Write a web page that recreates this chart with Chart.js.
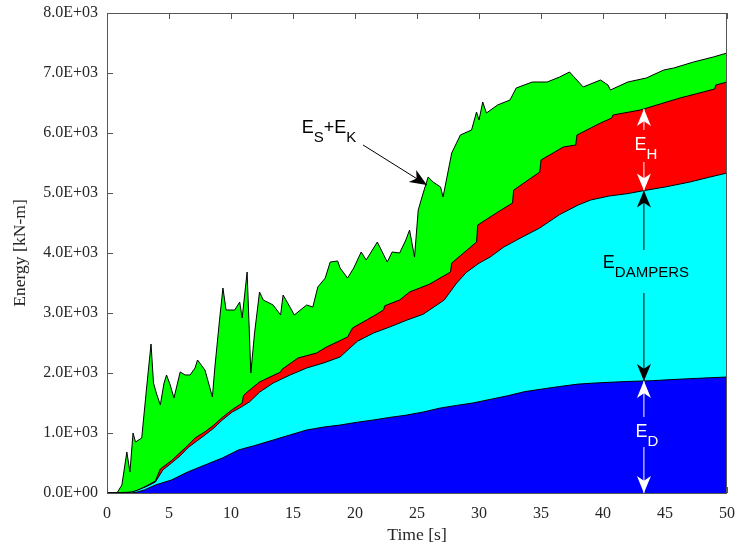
<!DOCTYPE html>
<html>
<head>
<meta charset="utf-8">
<script src="https://cdn.jsdelivr.net/npm/chart.js@4.4.0/dist/chart.umd.min.js"></script>
<style>
  html, body { margin: 0; padding: 0; background: #fff; }
  #wrap { width: 738px; height: 545px; }
</style>
</head>
<body>
<div id="wrap"><canvas id="energyChart" width="738" height="545"></canvas></div>
<script>
// tick labels
const xTickLabels = ['0', '5', '10', '15', '20', '25', '30', '35', '40', '45', '50'];
const yTickLabels = ['0.0E+00', '1.0E+03', '2.0E+03', '3.0E+03', '4.0E+03', '5.0E+03', '6.0E+03', '7.0E+03', '8.0E+03'];

// E_D (damping energy), top of blue band
const edTime = [0, 2, 2.5, 3, 3.9, 5.2, 6.5, 7.9, 9.3, 10.6, 11.9, 13.4, 14.8, 16.1, 17.5, 18.8, 20.2, 21.5, 22.8, 24.2,
  25.5, 26.9, 28.2, 29.5, 30.9, 32.3, 33.7, 35, 36.5, 38, 39.5, 41, 42.5, 44, 45.5, 47, 48.5, 50];
const edTop = [0, 0, 20, 50, 133, 217, 350, 467, 583, 717, 790, 883, 970, 1050, 1100, 1133, 1180, 1217, 1260, 1300,
  1350, 1417, 1460, 1500, 1560, 1620, 1690, 1730, 1775, 1815, 1835, 1850, 1862, 1872, 1890, 1905, 1920, 1933];

// E_D + E_DAMPERS, top of cyan band
const dampersTime = [0, 1.5, 2, 2.5, 3.2, 3.9, 4.5, 5.2, 5.9, 6.5, 7.2, 7.9, 8.6, 9.3, 10.1, 10.7, 11.5, 12.3, 13.4, 14.8,
  16.1, 17.5, 18.8, 19.5, 20.2, 21.5, 22.8, 24.2, 25.5, 26, 27.2, 28.2, 29, 30, 30.9, 32, 33.5, 34.9, 36.5, 38,
  39, 40.5, 42, 43.3, 45, 47, 48.5, 50];
const dampersTop = [0, 5, 15, 50, 110, 183, 383, 500, 620, 750, 860, 967, 1080, 1217, 1350, 1417, 1520, 1680, 1833, 1970,
  2083, 2170, 2267, 2400, 2530, 2667, 2767, 2883, 2980, 3050, 3217, 3500, 3680, 3830, 3933, 4100, 4267, 4417, 4640, 4800,
  4883, 4950, 4990, 5040, 5100, 5183, 5260, 5333];

// + E_H, top of red band
const hystTime = [0, 2, 2.5, 3.2, 3.9, 4.3, 5.2, 6.5, 7.1, 7.9, 8.6, 9.3, 10.1, 10.9, 11.0, 11.3, 12.3, 14.0, 14.1, 15.4,
  16.9, 17.7, 19.4, 19.8, 21.5, 22.3, 22.4, 23.6, 24.4, 26, 27.7, 27.8, 29.8, 29.9, 31.5, 32.7, 32.8, 34.9, 35, 36.8,
  37.8, 37.9, 39.8, 40.7, 40.8, 43, 46.2, 49, 49.1, 50];
const hystTop = [0, 15, 50, 120, 200, 400, 540, 790, 917, 1020, 1130, 1260, 1390, 1500, 1620, 1683, 1850, 2017, 2060, 2250,
  2333, 2433, 2600, 2750, 2950, 3050, 3120, 3217, 3350, 3480, 3683, 3833, 4183, 4467, 4680, 4833, 5050, 5350, 5550, 5767,
  5800, 5967, 6167, 6250, 6300, 6383, 6583, 6733, 6800, 6850];

// + E_S + E_K, top of green band (total input energy)
const totalTime = [0, 0.8, 1.2, 1.6, 1.85, 2.1, 2.3, 2.8, 3.2, 3.55, 3.75, 4.0, 4.3, 4.6, 4.8, 5.1, 5.4, 5.9, 6.3, 6.7,
  7.1, 7.3, 7.9, 8.5, 8.7, 9.1, 9.35, 9.6, 10.3, 10.7, 10.9, 11.3, 11.6, 11.9, 12.3, 12.6, 13.4, 14.0, 14.2, 14.8,
  15.1, 16.1, 16.6, 17.0, 17.6, 18.0, 18.6, 18.8, 19.4, 19.9, 20.5, 20.9, 21.8, 22.6, 23.0, 23.6, 24.1, 24.4, 24.8, 25.1,
  25.5, 25.9, 26.3, 26.9, 27.1, 27.8, 28.5, 29.4, 29.8, 30.0, 30.3, 30.6, 31.5, 32.5, 33.0, 34.3, 35.5, 36.5, 37.3, 38.4,
  39.8, 40.4, 40.6, 42.0, 43.5, 44.9, 45.7, 47.3, 48.9, 50];
const totalTop = [0, 0, 133, 683, 350, 1000, 850, 917, 1767, 2483, 1833, 1650, 1467, 1833, 1967, 1800, 1583, 2017, 1967, 1967,
  2083, 2217, 2050, 1600, 2100, 2933, 3417, 3050, 3050, 3183, 2917, 3683, 2000, 2667, 3350, 3217, 3133, 2967, 3300, 3083,
  2967, 3133, 3100, 3433, 3583, 3850, 3867, 3750, 3583, 3750, 4017, 3883, 4183, 3850, 4017, 4000, 4217, 4383, 3933, 4717,
  5000, 5267, 5183, 5100, 4933, 5667, 5967, 6050, 6350, 6217, 6517, 6333, 6467, 6550, 6750, 6850, 6850, 6933, 7017, 6767,
  6883, 6800, 6717, 6850, 6917, 7050, 7083, 7183, 7267, 7333];

const toPoints = (ts, es) => ts.map((t, i) => ({ x: t, y: es[i] }));

const valueAt = (ts, es, t) => {
  for (let i = 1; i < ts.length; i++) {
    if (t <= ts[i]) {
      const f = (t - ts[i - 1]) / (ts[i] - ts[i - 1]);
      return es[i - 1] + f * (es[i] - es[i - 1]);
    }
  }
  return es[es.length - 1];
};

const serif = '"Liberation Serif", "Times New Roman", serif';
const sans = '"Liberation Sans", Arial, sans-serif';
const axisColor = '#262626';
const frameColor = '#555555';

const drawLabel = (ctx, parts, x, y, color, align) => {
  // parts: [text, isSubscript]
  const widths = parts.map(([txt, sub]) => {
    ctx.font = sub ? `15px ${sans}` : `18px ${sans}`;
    return ctx.measureText(txt).width;
  });
  const total = widths.reduce((a, b) => a + b, 0);
  let cx = align === 'center' ? x - total / 2 : x;
  ctx.fillStyle = color;
  ctx.textBaseline = 'alphabetic';
  ctx.textAlign = 'left';
  parts.forEach(([txt, sub], i) => {
    ctx.font = sub ? `15px ${sans}` : `18px ${sans}`;
    ctx.fillText(txt, cx, sub ? y + 9 : y);
    cx += widths[i];
  });
};

const arrowHead = (ctx, tipX, tipY, fromX, fromY, len, half) => {
  const ang = Math.atan2(tipY - fromY, tipX - fromX);
  const c = Math.cos(ang);
  const s = Math.sin(ang);
  const pt = (back, side) => [tipX - back * c - side * s, tipY - back * s + side * c];
  const [ax, ay] = pt(len, half);
  const [bx, by] = pt(len, -half);
  const [nx, ny] = pt(len * 0.72, 0);
  ctx.beginPath();
  ctx.moveTo(tipX, tipY);
  ctx.lineTo(ax, ay);
  ctx.lineTo(nx, ny);
  ctx.lineTo(bx, by);
  ctx.closePath();
  ctx.fill();
};

const arrow = (ctx, x1, y1, x2, y2, color) => {
  ctx.strokeStyle = color;
  ctx.fillStyle = color;
  ctx.lineWidth = 1;
  ctx.beginPath();
  ctx.moveTo(x1, y1);
  ctx.lineTo(x2, y2);
  ctx.stroke();
  arrowHead(ctx, x2, y2, x1, y1, 17, 7);
};

const axesFrame = {
  id: 'axesFrame',
  beforeDatasetsDraw(chart) {
    const { ctx, chartArea: a, scales: { x, y } } = chart;
    ctx.save();
    ctx.strokeStyle = frameColor;
    ctx.lineWidth = 1;
    ctx.beginPath();
    x.ticks.forEach((t) => {
      const px = Math.round(x.getPixelForValue(t.value)) + 0.5;
      ctx.moveTo(px, a.top);
      ctx.lineTo(px, a.top + 6);
      ctx.moveTo(px, a.bottom);
      ctx.lineTo(px, a.bottom - 6);
    });
    y.ticks.forEach((t) => {
      const py = Math.round(y.getPixelForValue(t.value)) + 0.5;
      ctx.moveTo(a.left, py);
      ctx.lineTo(a.left + 6, py);
      ctx.moveTo(a.right, py);
      ctx.lineTo(a.right - 6, py);
    });
    ctx.stroke();
    ctx.restore();
  },
  afterDatasetsDraw(chart) {
    const { ctx, chartArea: a } = chart;
    ctx.save();
    ctx.strokeStyle = frameColor;
    ctx.lineWidth = 1;
    ctx.strokeRect(a.left + 0.5, a.top + 0.5, a.right - a.left - 1, a.bottom - a.top);
    ctx.restore();
  }
};

const energyNotes = {
  id: 'energyNotes',
  afterDraw(chart) {
    const { ctx, scales: { x, y } } = chart;
    const tA = 43.3;
    const px = x.getPixelForValue(tA);
    const yRed = y.getPixelForValue(valueAt(hystTime, hystTop, tA));
    const yCyan = y.getPixelForValue(valueAt(dampersTime, dampersTop, tA));
    const yBlue = y.getPixelForValue(valueAt(edTime, edTop, tA));
    const yZero = y.getPixelForValue(0);
    ctx.save();

    // E_H
    let base = y.getPixelForValue(5717);
    arrow(ctx, px, base - 20, px, yRed, '#ffffff');
    arrow(ctx, px, base + 12, px, yCyan, '#ffffff');
    drawLabel(ctx, [['E', false], ['H', true]], px + 2, base, '#ffffff', 'center');

    // E_DAMPERS
    base = y.getPixelForValue(3750);
    arrow(ctx, px, base - 18, px, yCyan, '#000000');
    arrow(ctx, px, base + 25, px, yBlue, '#000000');
    drawLabel(ctx, [['E', false], ['DAMPERS', true]], px + 2, base, '#000000', 'center');

    // E_D
    base = y.getPixelForValue(933);
    arrow(ctx, px, base - 20, px, yBlue, '#ffffff');
    arrow(ctx, px, base + 10, px, yZero, '#ffffff');
    drawLabel(ctx, [['E', false], ['D', true]], px + 3, base, '#ffffff', 'center');

    // E_S + E_K
    drawLabel(ctx, [['E', false], ['S', true], ['+', false], ['E', false], ['K', true]],
      x.getPixelForValue(15.7), y.getPixelForValue(6000), '#000000', 'left');
    arrow(ctx, x.getPixelForValue(20.65), y.getPixelForValue(5800),
      x.getPixelForValue(25.8), y.getPixelForValue(5133), '#000000');

    ctx.restore();
  }
};

const band = (label, ts, es, color) => ({
  label,
  data: toPoints(ts, es),
  backgroundColor: color,
  borderColor: '#000000',
  borderWidth: 1,
  pointRadius: 0,
  tension: 0,
  fill: 'origin'
});

const noScalePadding = (scale) => {
  scale.paddingLeft = 0;
  scale.paddingRight = 0;
  scale.paddingTop = 0;
  scale.paddingBottom = 0;
};

const ctx = document.getElementById('energyChart');
new Chart(ctx, {
  type: 'line',
  data: {
    datasets: [
      band('E_D', edTime, edTop, '#0000ff'),
      band('E_DAMPERS', dampersTime, dampersTop, '#00ffff'),
      band('E_H', hystTime, hystTop, '#ff0000'),
      band('E_S+E_K', totalTime, totalTop, '#00ff00')
    ]
  },
  options: {
    responsive: false,
    devicePixelRatio: 1,
    animation: false,
    layout: { padding: { top: 13, right: 11, left: 0, bottom: 0 } },
    plugins: {
      legend: { display: false },
      tooltip: { enabled: false }
    },
    scales: {
      x: {
        type: 'linear',
        min: 0,
        max: 50,
        grid: { display: false, drawTicks: false },
        border: { display: false },
        ticks: {
          stepSize: 5,
          autoSkip: false,
          maxRotation: 0,
          padding: 11,
          color: axisColor,
          font: { family: serif, size: 16 },
          callback: (v, i) => xTickLabels[i]
        },
        title: {
          display: true,
          text: 'Time [s]',
          color: axisColor,
          font: { family: serif, size: 17.6, lineHeight: 1.15 },
          padding: { top: 0, bottom: 0 }
        },
        afterFit: (scale) => { scale.height = 52; noScalePadding(scale); }
      },
      y: {
        min: 0,
        max: 8000,
        grid: { display: false, drawTicks: false },
        border: { display: false },
        ticks: {
          stepSize: 1000,
          padding: 9,
          color: axisColor,
          font: { family: serif, size: 16 },
          callback: (v, i) => yTickLabels[i]
        },
        title: {
          display: true,
          text: 'Energy [kN-m]',
          color: axisColor,
          font: { family: serif, size: 17.6, lineHeight: 1.15 },
          padding: { top: 10, bottom: 0 }
        },
        afterFit: (scale) => { scale.width = 107; noScalePadding(scale); }
      }
    }
  },
  plugins: [axesFrame, energyNotes]
});
</script>
</body>
</html>
